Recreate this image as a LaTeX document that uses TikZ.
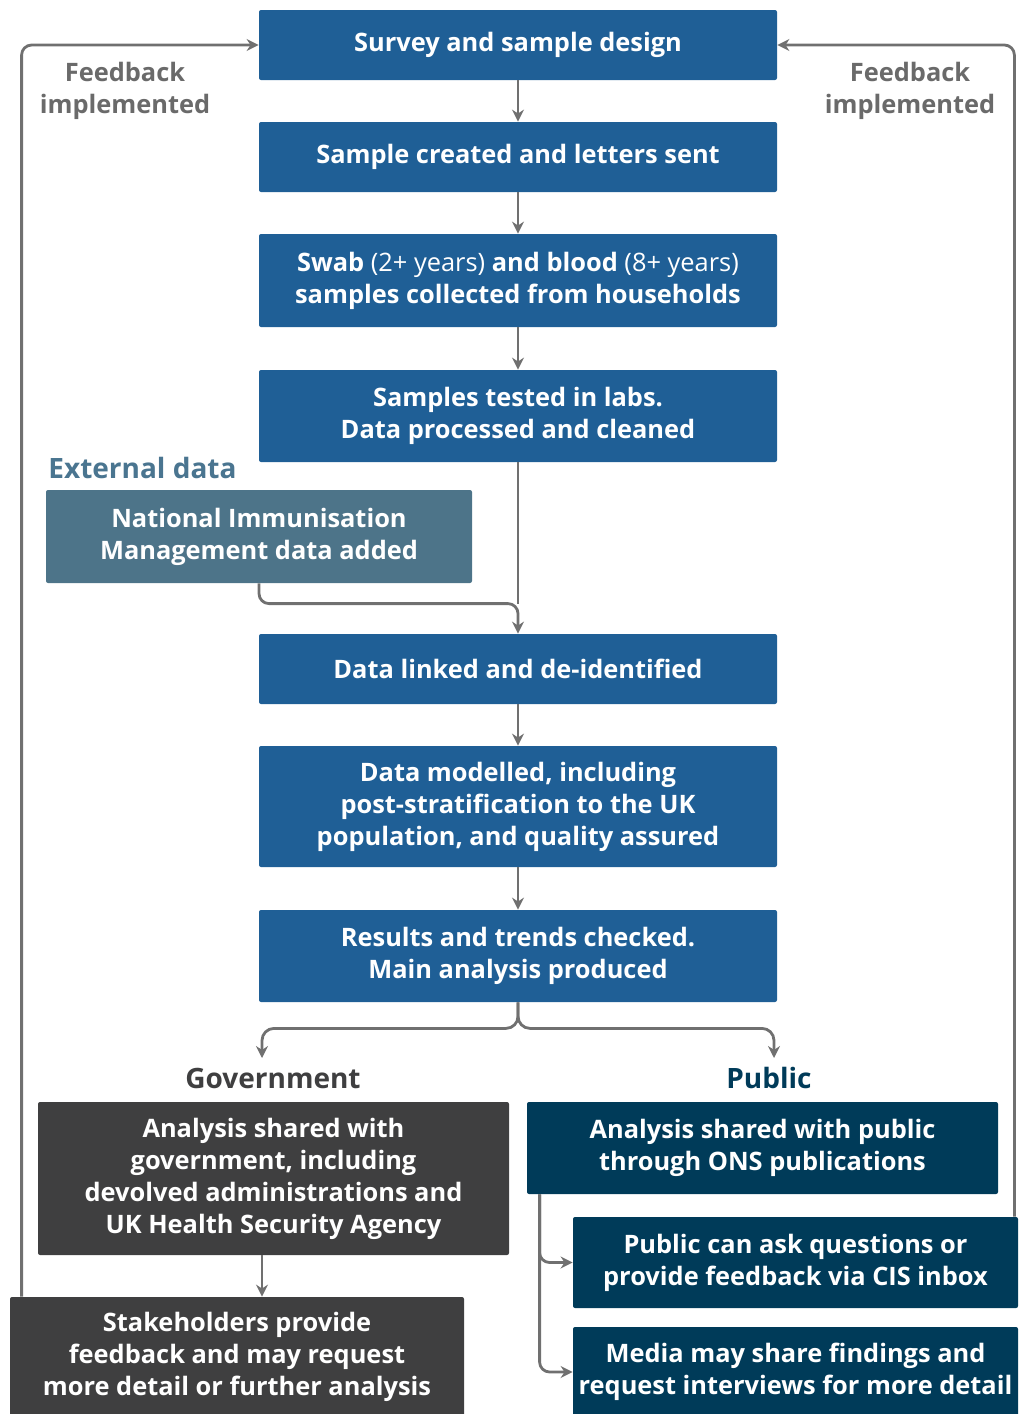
\documentclass[tikz,border=0pt]{standalone}
\usepackage{fontspec}
\setmainfont{Open Sans}
\usetikzlibrary{arrows.meta}
\definecolor{oceanblue}{HTML}{1F5F96}
\definecolor{nightblue}{HTML}{003B59}
\definecolor{extteal}{HTML}{4D7489}
\definecolor{extlabel}{HTML}{4A7590}
\definecolor{govgrey}{HTML}{3F3F40}
\definecolor{linegrey}{HTML}{707070}
\definecolor{fbgrey}{HTML}{6A6A6A}
\begin{document}
\begin{tikzpicture}[x=0.5pt,y=-0.5pt,
  box/.style={fill=#1,text=white,font=\fontsize{12.7}{16}\selectfont\bfseries,
    align=center,inner sep=0pt,rounded corners=1pt},
  mainbox/.style={box=oceanblue,minimum width=259pt},
  arr/.style={draw=linegrey,line width=1.4pt,-{Stealth[length=6pt,width=6pt]}},
  conn/.style={draw=linegrey,line width=1.4pt},
  fb/.style={text=fbgrey,font=\fontsize{12.7}{16}\selectfont\bfseries,align=center},
  grouplabel/.style={font=\fontsize{14}{17}\selectfont\bfseries,inner sep=0pt}]
\useasboundingbox (0,0) rectangle (1018,1414);

% main process column
\node[mainbox,minimum height=35pt] (b1) at (518,45) {Survey and sample design};
\node[mainbox,minimum height=35pt] (b2) at (518,157) {Sample created and letters sent};
\node[mainbox,minimum height=46.5pt] (b3) at (518,280.5)
  {Swab {\mdseries(2+ years)} and blood {\mdseries(8+ years)}\\samples collected from households};
\node[mainbox,minimum height=46pt] (b4) at (518,416) {Samples tested in labs.\\Data processed and cleaned};
\node[mainbox,minimum height=35pt] (b5) at (518,669) {Data linked and de-identified};
\node[mainbox,minimum height=60.5pt] (b6) at (518,806.5)
  {Data modelled, including\\post-stratification to the UK\\population, and quality assured};
\node[mainbox,minimum height=46pt] (b7) at (518,956) {Results and trends checked.\\Main analysis produced};

% external data
\node[grouplabel,text=extlabel,anchor=west] (extl) at (48,468) {External data};
\node[box=extteal,minimum width=213pt,minimum height=46.5pt] (nim) at (259,536.5)
  {National Immunisation\\Management data added};

% audiences
\node[grouplabel,text=govgrey] (govl) at (273,1078) {Government};
\node[grouplabel,text=nightblue] (publ) at (769,1078) {Public};
\node[box=govgrey,minimum width=235.5pt,minimum height=76.5pt] (gov) at (273.5,1178.5)
  {Analysis shared with\\government, including\\devolved administrations and\\UK Health Security Agency};
\node[box=govgrey,minimum width=227pt,minimum height=60pt] (stake) at (237,1357)
  {Stakeholders provide\\feedback and may request\\more detail or further analysis};
\node[box=nightblue,minimum width=235.5pt,minimum height=46pt] (pub) at (762.5,1148)
  {Analysis shared with public\\through ONS publications};
\node[box=nightblue,minimum width=222.5pt,minimum height=45.5pt] (cis) at (795.5,1262.5)
  {Public can ask questions or\\provide feedback via CIS inbox};
\node[box=nightblue,minimum width=222.5pt,minimum height=45pt] (media) at (795.5,1372)
  {Media may share findings and\\request interviews for more detail};

% feedback labels
\node[fb] (fbl) at (125,91) {Feedback\\implemented};
\node[fb] (fbr) at (910,91) {Feedback\\implemented};

% flow connectors
\draw[arr] (b1) -- (b2);
\draw[arr] (b2) -- (b3);
\draw[arr] (b3) -- (b4);
\coordinate (join) at ([yshift=15pt]b5.north);
\draw[conn] (b4.south) -- (join);
\draw[arr,rounded corners=5pt] (nim.south) |- (join) -- (b5.north);
\draw[arr] (b5) -- (b6);
\draw[arr] (b6) -- (b7);

% split towards the two audiences
\coordinate (split) at ([yshift=-13pt]b7.south);
\coordinate (gend) at (262,1058);
\coordinate (pend) at (774,1058);
\draw[arr,rounded corners=6pt] (b7.south) -- (split) -| (gend);
\draw[arr,rounded corners=6pt] (b7.south) -- (split) -| (pend);

\draw[arr] (gend |- gov.south) -- (gend |- stake.north);

\coordinate (pb) at ([xshift=6.5pt]pub.south west);
\draw[arr,rounded corners=5pt] (pb) |- (cis.west);
\draw[arr,rounded corners=5pt] (pb) |- (media.west);

% feedback loops back to the design stage
\draw[arr,rounded corners=5pt] ([xshift=6pt]stake.north west) |- (b1.west);
\draw[arr,rounded corners=5pt] ([xshift=-2pt]cis.north east) |- (b1.east);
\end{tikzpicture}
\end{document}
